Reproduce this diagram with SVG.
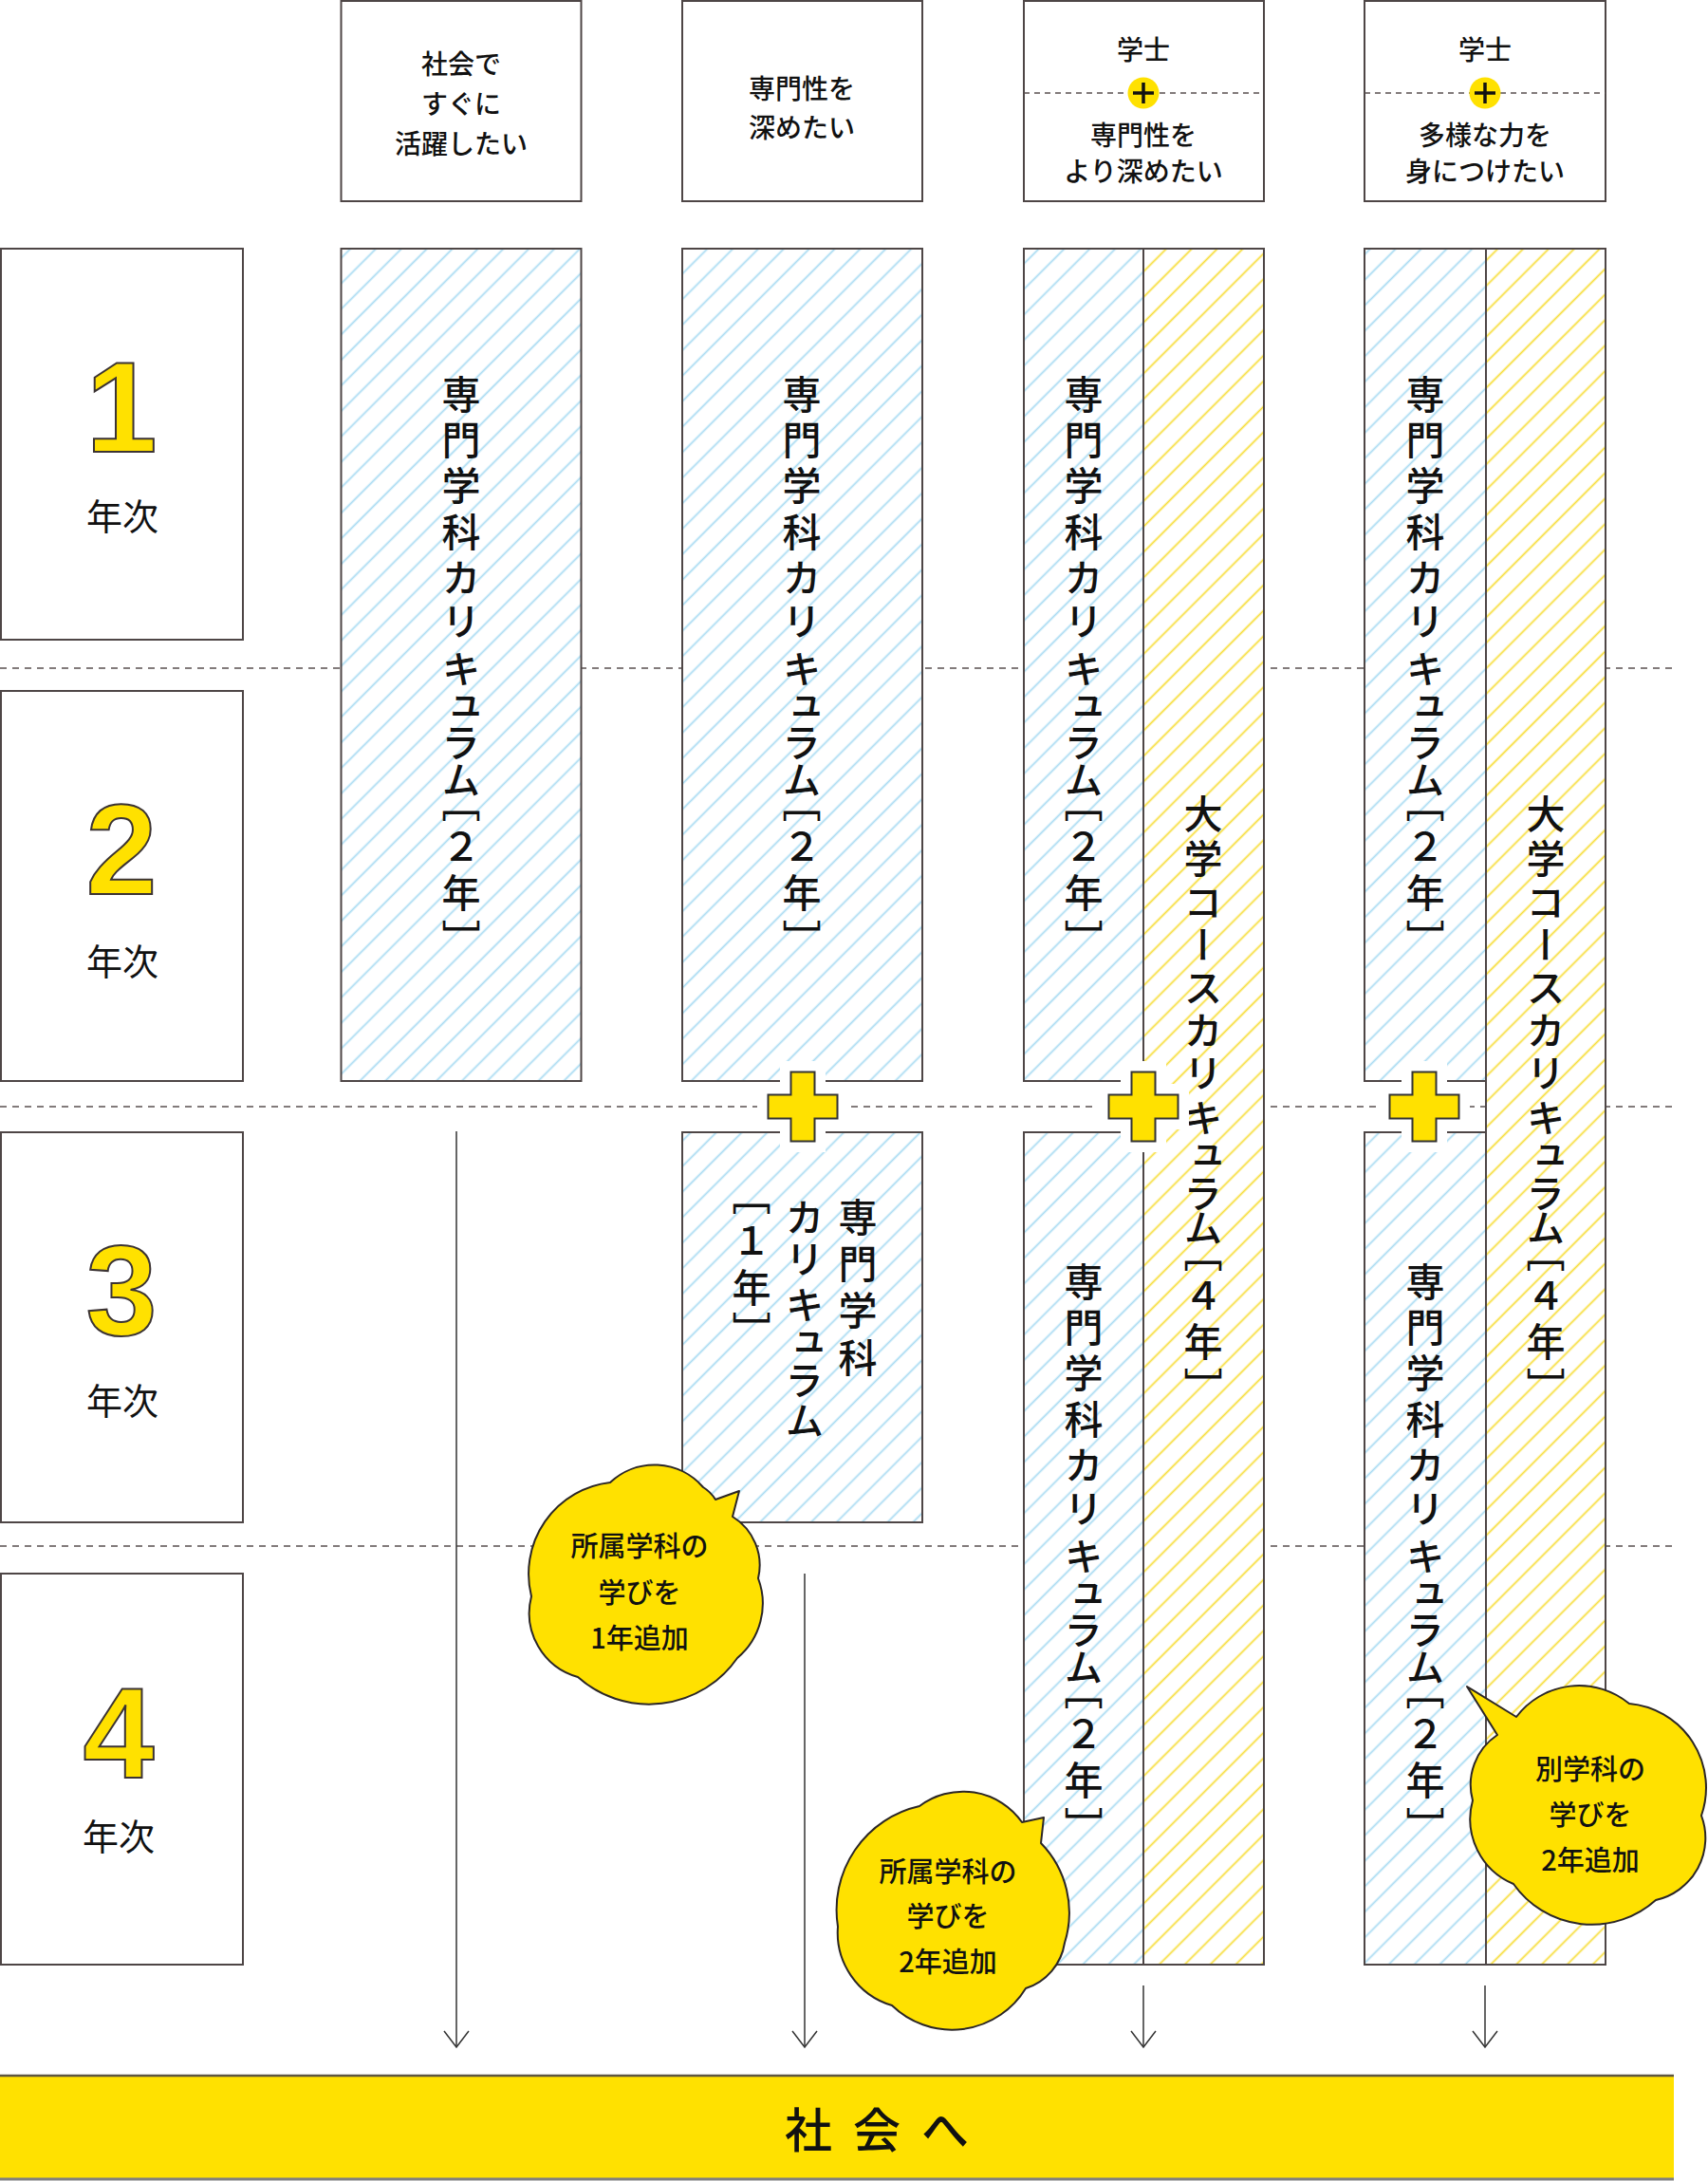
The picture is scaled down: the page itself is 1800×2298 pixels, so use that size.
<svg xmlns="http://www.w3.org/2000/svg" width="1800" height="2298" viewBox="0 0 1800 2298">
<style>
.bx{fill:#fff;stroke:#4e4646;stroke-width:2}
.ol{fill:none;stroke:#4e4646;stroke-width:2}
.jp{font-family:"Noto Sans CJK JP","Noto Sans CJK SC",sans-serif;fill:#111}
.hd{font-size:28px;font-weight:500;text-anchor:middle;dominant-baseline:central}
.vt{font-size:41px;font-weight:500;writing-mode:vertical-rl;text-anchor:middle}
.yr{font-size:38px;font-weight:400;text-anchor:middle;dominant-baseline:central}
.num{font-family:"Liberation Sans",Arial,sans-serif;font-weight:700;font-size:135px;fill:#ffe100;stroke:#3b3333;stroke-width:2;text-anchor:middle}
.bt{font-size:29px;font-weight:500;text-anchor:middle;dominant-baseline:central}
.dash{stroke:#5a5050;stroke-width:1.4;stroke-dasharray:7 6;fill:none}
.hdash{stroke:#5a5050;stroke-width:1.4;stroke-dasharray:6 5;fill:none}
.cloud{fill:#ffe100;stroke:#2b2626;stroke-width:2;stroke-linejoin:round}
.arr{stroke:#333;stroke-width:1.5;fill:none;marker-end:url(#ah)}
.halo{fill:#fff;stroke:#fff;stroke-width:23;stroke-linejoin:miter}
.plus{fill:#ffe100;stroke:#333;stroke-width:2}
</style>
<defs>
<pattern id="hb" patternUnits="userSpaceOnUse" width="19" height="19" patternTransform="rotate(45)">
<line x1="9.5" y1="-2" x2="9.5" y2="21" stroke="#a9dbf2" stroke-width="1.8"/>
</pattern>
<pattern id="hy" patternUnits="userSpaceOnUse" width="19" height="19" patternTransform="rotate(45)">
<line x1="9.5" y1="-2" x2="9.5" y2="21" stroke="#f7dd3a" stroke-width="1.8"/>
</pattern>
<path id="cross" d="M-12.5,-36.5 H12.5 V-12.5 H36.5 V12.5 H12.5 V36.5 H-12.5 V12.5 H-36.5 V-12.5 H-12.5 Z"/>
<marker id="ah" markerUnits="userSpaceOnUse" markerWidth="30" markerHeight="30" refX="17" refY="13" orient="auto" overflow="visible">
<path d="M0,0 L17,13 L0,26" fill="none" stroke="#333" stroke-width="1.5"/>
</marker>
</defs>
<rect width="1800" height="2298" fill="#fff"/>

<g id="grid-lines">
<line class="dash" x1="0" y1="704" x2="1765" y2="704"/>
<line class="dash" x1="0" y1="1166" x2="1765" y2="1166"/>
<line class="dash" x1="0" y1="1629" x2="1765" y2="1629"/>
</g>

<g id="header-1">
<rect class="bx" x="359.5" y="1" width="253" height="211"/>
<text class="jp hd" x="486" y="66">社会で</text>
<text class="jp hd" x="486" y="108">すぐに</text>
<text class="jp hd" x="486" y="150">活躍したい</text>
</g>
<g id="header-2">
<rect class="bx" x="719" y="1" width="253" height="211"/>
<text class="jp hd" x="845" y="92">専門性を</text>
<text class="jp hd" x="845" y="133">深めたい</text>
</g>
<g id="header-3">
<rect class="bx" x="1079" y="1" width="253" height="211"/>
<line class="hdash" x1="1079" y1="98" x2="1332" y2="98"/>
<text class="jp hd" x="1205" y="51">学士</text>
<circle cx="1205" cy="98" r="16.5" fill="#ffe100"/>
<path d="M1194,98 H1216 M1205,87 V109" stroke="#111" stroke-width="3.5"/>
<text class="jp hd" x="1205" y="141">専門性を</text>
<text class="jp hd" x="1205" y="179">より深めたい</text>
</g>
<g id="header-4">
<rect class="bx" x="1438" y="1" width="254" height="211"/>
<line class="hdash" x1="1438" y1="98" x2="1692" y2="98"/>
<text class="jp hd" x="1565" y="51">学士</text>
<circle cx="1565" cy="98" r="16.5" fill="#ffe100"/>
<path d="M1554,98 H1576 M1565,87 V109" stroke="#111" stroke-width="3.5"/>
<text class="jp hd" x="1565" y="141">多様な力を</text>
<text class="jp hd" x="1565" y="179">身につけたい</text>
</g>

<g id="year-1">
<rect class="bx" x="1" y="262" width="255" height="412"/>
<text class="num" x="128" y="476">1</text>
<text class="jp yr" x="129" y="541">年次</text>
</g>
<g id="year-2">
<rect class="bx" x="1" y="728" width="255" height="411"/>
<text class="num" x="128" y="942">2</text>
<text class="jp yr" x="129" y="1010">年次</text>
</g>
<g id="year-3">
<rect class="bx" x="1" y="1193" width="255" height="411"/>
<text class="num" x="128" y="1406">3</text>
<text class="jp yr" x="129" y="1473">年次</text>
</g>
<g id="year-4">
<rect class="bx" x="1" y="1658" width="255" height="412"/>
<text class="num" x="125" y="1873">4</text>
<text class="jp yr" x="125" y="1932">年次</text>
</g>

<g id="col1-senmon">
<rect x="359.5" y="262" width="253" height="877" fill="#fff"/>
<rect class="ol" x="359.5" y="262" width="253" height="877" style="fill:url(#hb)"/>
<text class="jp vt" x="486" y="415 463 511 560 608 654 704 744 782 821 845 892 940 989">専門学科カリキュラム［２年］</text>
</g>
<g id="col2-senmon">
<rect x="719" y="262" width="253" height="877" fill="#fff"/>
<rect class="ol" x="719" y="262" width="253" height="877" style="fill:url(#hb)"/>
<text class="jp vt" x="845" y="415 463 511 560 608 654 704 744 782 821 845 892 940 989">専門学科カリキュラム［２年］</text>
</g>
<g id="col2-add">
<rect x="719" y="1193" width="253" height="411" fill="#fff"/>
<rect class="ol" x="719" y="1193" width="253" height="411" style="fill:url(#hb)"/>
<text class="jp vt"><tspan x="904" y="1282 1331 1380 1430">専門学科</tspan><tspan x="848" y="1282 1326 1374 1414 1454 1496">カリキュラム</tspan><tspan x="792" y="1259 1307 1356 1402">［１年］</tspan></text>
</g>
<g id="col3-daigaku">
<rect x="1205" y="262" width="127" height="1808" fill="#fff"/>
<rect class="ol" x="1205" y="262" width="127" height="1808" style="fill:url(#hy)"/>
<text class="jp vt" x="1268" y="857 904 950 995 1040 1085 1130 1177 1217 1257 1293 1319 1365 1413 1461">大学コースカリキュラム［４年］</text>
</g>
<g id="col3-senmon">
<rect x="1079" y="262" width="126" height="877" fill="#fff"/>
<rect class="ol" x="1079" y="262" width="126" height="877" style="fill:url(#hb)"/>
<text class="jp vt" x="1142" y="415 463 511 560 608 654 704 744 782 821 845 892 940 989">専門学科カリキュラム［２年］</text>
</g>
<g id="col3-add">
<rect x="1079" y="1193" width="126" height="877" fill="#fff"/>
<rect class="ol" x="1079" y="1193" width="126" height="877" style="fill:url(#hb)"/>
<text class="jp vt" x="1142" y="1350 1398 1446 1495 1543 1589 1639 1679 1717 1756 1780 1827 1875 1924">専門学科カリキュラム［２年］</text>
</g>
<g id="col4-daigaku">
<rect x="1566" y="262" width="126" height="1808" fill="#fff"/>
<rect class="ol" x="1566" y="262" width="126" height="1808" style="fill:url(#hy)"/>
<text class="jp vt" x="1629" y="857 904 950 995 1040 1085 1130 1177 1217 1257 1293 1319 1365 1413 1461">大学コースカリキュラム［４年］</text>
</g>
<g id="col4-senmon">
<rect x="1438" y="262" width="128" height="877" fill="#fff"/>
<rect class="ol" x="1438" y="262" width="128" height="877" style="fill:url(#hb)"/>
<text class="jp vt" x="1502" y="415 463 511 560 608 654 704 744 782 821 845 892 940 989">専門学科カリキュラム［２年］</text>
</g>
<g id="col4-add">
<rect x="1438" y="1193" width="128" height="877" fill="#fff"/>
<rect class="ol" x="1438" y="1193" width="128" height="877" style="fill:url(#hb)"/>
<text class="jp vt" x="1502" y="1350 1398 1446 1495 1543 1589 1639 1679 1717 1756 1780 1827 1875 1924">専門学科カリキュラム［２年］</text>
</g>

<g id="plus-2" transform="translate(846,1166)">
<use href="#cross" class="halo"/>
<use href="#cross" class="plus"/>
</g>
<g id="plus-3" transform="translate(1205,1166)">
<use href="#cross" class="halo"/>
<use href="#cross" class="plus"/>
</g>
<g id="plus-4" transform="translate(1501,1166)">
<use href="#cross" class="halo"/>
<use href="#cross" class="plus"/>
</g>

<g id="connectors">
<line class="arr" x1="481" y1="1192" x2="481" y2="2157"/>
<line class="arr" x1="848" y1="1658" x2="848" y2="2157"/>
<line class="arr" x1="1205" y1="2092" x2="1205" y2="2157"/>
<line class="arr" x1="1565" y1="2092" x2="1565" y2="2157"/>
</g>

<g id="bubble-1">
<path class="cloud" d="M643,1562 A68,68 0 0 1 741,1567 A40,40 0 0 1 754,1580 L779,1571 L772,1598 A60,60 0 0 1 799,1663 A75,75 0 0 1 777,1747 A113,113 0 0 1 609,1767 A70,70 0 0 1 560,1682 A97,97 0 0 1 643,1562 Z"/>
<text class="jp bt" x="674" y="1627">所属学科の</text>
<text class="jp bt" x="674" y="1676">学びを</text>
<text class="jp bt" x="674" y="1724">1年追加</text>
</g>
<g id="bubble-2">
<path class="cloud" d="M969,1903 A76,76 0 0 1 1077,1920 L1100,1915 L1097,1942 A105,105 0 0 1 1122,2047 A60,60 0 0 1 1081,2095 A91,91 0 0 1 940,2113 A80,80 0 0 1 883,2030 A112,112 0 0 1 969,1903 Z"/>
<text class="jp bt" x="999" y="1970">所属学科の</text>
<text class="jp bt" x="999" y="2017">学びを</text>
<text class="jp bt" x="999" y="2065">2年追加</text>
</g>
<g id="bubble-3">
<path class="cloud" d="M1578,1828 L1546,1777 L1598,1809 A83,83 0 0 1 1717,1795 A89,89 0 0 1 1793,1913 A67,67 0 0 1 1745,2002 A101,101 0 0 1 1595,1985 A74,74 0 0 1 1552,1897 A63,63 0 0 1 1578,1828 Z"/>
<text class="jp bt" x="1676" y="1862">別学科の</text>
<text class="jp bt" x="1676" y="1910">学びを</text>
<text class="jp bt" x="1676" y="1958">2年追加</text>
</g>

<g id="shakai-bar">
<rect x="0" y="2187" width="1764" height="108" fill="#ffe100"/>
<line x1="0" y1="2187" x2="1764" y2="2187" stroke="#5e5640" stroke-width="2.5"/>
<line x1="0" y1="2296" x2="1764" y2="2296" stroke="#808080" stroke-width="3"/>
<text class="jp" x="827" y="2241" style="font-size:50px;font-weight:500;letter-spacing:22px;dominant-baseline:central">社会へ</text>
</g>
</svg>
